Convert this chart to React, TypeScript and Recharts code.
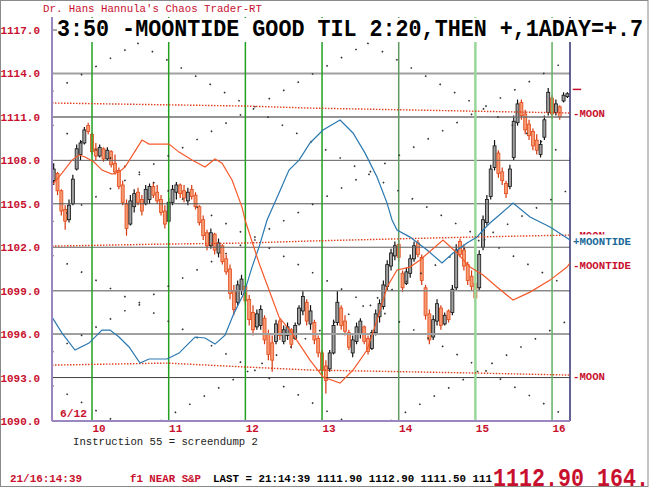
import React from 'react';
import { ComposedChart, Line, Bar, XAxis, YAxis, ReferenceLine } from 'recharts';

const FIRST_BAR_DAY = 9.5;
const BAR_STEP = 0.05;

// [open, high, low, close]
const candles: [number, number, number, number][] = [
  [1106.6, 1107.8, 1106.3, 1107.4], [1107.1, 1107.2, 1105.6, 1105.9], [1105.9, 1106.0, 1104.2, 1104.5], [1104.6, 1104.9, 1103.2, 1103.8],
  [1103.9, 1105.3, 1103.7, 1104.9], [1105.0, 1107.0, 1104.9, 1106.7], [1107.4, 1109.1, 1107.3, 1108.8], [1108.4, 1109.4, 1108.0, 1109.2],
  [1109.2, 1110.3, 1109.1, 1110.1], [1110.4, 1110.6, 1109.8, 1110.0], [1109.8, 1109.9, 1108.4, 1108.6], [1108.8, 1109.2, 1108.0, 1108.3],
  [1108.3, 1109.1, 1108.2, 1108.9], [1108.8, 1108.9, 1107.9, 1108.1], [1108.1, 1108.9, 1108.0, 1108.7], [1108.6, 1108.7, 1107.5, 1107.7],
  [1107.8, 1108.4, 1107.0, 1107.2], [1107.3, 1107.5, 1106.0, 1106.2], [1106.3, 1106.6, 1104.9, 1105.1], [1105.0, 1105.3, 1102.8, 1103.3],
  [1103.6, 1105.6, 1103.5, 1105.2], [1104.8, 1106.0, 1104.4, 1105.7], [1105.8, 1106.1, 1104.9, 1105.1], [1105.3, 1105.6, 1104.2, 1104.5],
  [1105.0, 1106.3, 1104.9, 1106.0], [1105.3, 1106.4, 1105.0, 1106.2], [1106.2, 1106.5, 1105.4, 1105.6], [1105.8, 1106.3, 1105.0, 1105.2],
  [1105.3, 1105.6, 1104.2, 1104.4], [1104.5, 1104.9, 1103.3, 1103.6], [1103.8, 1105.4, 1103.7, 1105.1], [1105.1, 1106.3, 1104.9, 1106.0],
  [1105.8, 1106.5, 1105.3, 1106.3], [1106.3, 1106.4, 1105.4, 1105.7], [1105.9, 1106.3, 1105.1, 1105.4], [1105.2, 1106.1, 1104.9, 1105.8],
  [1106.0, 1106.3, 1105.3, 1105.5], [1105.6, 1105.8, 1104.6, 1104.8], [1104.8, 1104.9, 1103.5, 1103.7], [1103.9, 1104.2, 1102.5, 1102.8],
  [1103.0, 1103.2, 1101.8, 1102.1], [1102.1, 1103.3, 1101.9, 1103.0], [1102.9, 1103.0, 1101.5, 1101.8], [1101.6, 1102.6, 1101.3, 1102.3],
  [1102.1, 1102.2, 1100.8, 1101.0], [1101.2, 1101.5, 1100.1, 1100.3], [1100.5, 1100.8, 1098.4, 1098.8], [1099.0, 1099.4, 1097.3, 1097.7],
  [1098.2, 1099.7, 1098.0, 1099.4], [1099.0, 1100.1, 1098.7, 1099.8], [1099.3, 1099.4, 1098.0, 1098.3], [1098.4, 1098.7, 1096.6, 1097.0],
  [1097.5, 1098.0, 1095.9, 1096.3], [1096.5, 1097.7, 1096.3, 1097.4], [1096.6, 1098.0, 1096.3, 1097.7], [1097.1, 1097.3, 1095.3, 1095.6],
  [1096.0, 1096.3, 1094.2, 1094.6], [1095.4, 1095.9, 1093.4, 1094.2], [1095.5, 1097.0, 1095.3, 1096.7], [1096.9, 1097.1, 1095.6, 1095.9],
  [1095.5, 1096.6, 1095.3, 1096.3], [1095.9, 1096.8, 1095.6, 1096.5], [1096.3, 1096.4, 1095.0, 1095.3], [1095.7, 1096.8, 1095.6, 1096.6],
  [1096.7, 1098.0, 1096.6, 1097.8], [1097.6, 1099.0, 1097.3, 1098.6], [1098.2, 1098.4, 1096.6, 1096.9], [1096.7, 1098.0, 1096.3, 1097.6],
  [1096.8, 1097.0, 1095.3, 1095.6], [1095.7, 1095.9, 1094.4, 1094.7], [1094.7, 1094.9, 1093.2, 1093.5], [1093.8, 1094.2, 1091.9, 1092.8],
  [1093.6, 1094.9, 1093.4, 1094.7], [1094.7, 1097.0, 1094.6, 1096.6], [1096.8, 1099.0, 1096.6, 1098.2], [1097.8, 1098.0, 1096.3, 1096.6],
  [1096.9, 1097.3, 1095.9, 1096.2], [1096.1, 1096.3, 1094.9, 1095.1], [1094.7, 1095.9, 1094.4, 1095.6], [1095.5, 1096.8, 1095.3, 1096.5],
  [1096.0, 1097.1, 1095.7, 1096.9], [1096.5, 1096.6, 1095.3, 1095.5], [1095.7, 1095.9, 1094.6, 1094.8], [1095.0, 1096.3, 1094.9, 1096.1],
  [1096.1, 1097.7, 1095.9, 1097.4], [1097.2, 1098.4, 1096.8, 1098.1], [1097.9, 1099.7, 1097.7, 1099.4], [1099.3, 1101.1, 1099.0, 1100.8],
  [1100.7, 1101.9, 1100.4, 1101.6], [1101.4, 1102.4, 1101.1, 1102.1], [1102.2, 1102.5, 1101.0, 1101.3], [1100.2, 1100.4, 1098.9, 1099.2],
  [1099.5, 1100.6, 1099.4, 1100.3], [1100.2, 1101.5, 1099.9, 1101.2], [1101.2, 1102.4, 1101.0, 1102.1], [1102.3, 1102.5, 1101.3, 1101.5],
  [1101.3, 1101.5, 1099.4, 1099.7], [1099.2, 1099.4, 1097.0, 1097.3], [1097.4, 1097.7, 1095.3, 1095.6], [1095.8, 1097.3, 1095.6, 1097.0],
  [1096.9, 1098.4, 1096.6, 1098.1], [1097.8, 1098.0, 1096.3, 1096.6], [1096.7, 1097.5, 1096.6, 1097.3], [1097.6, 1097.7, 1096.8, 1097.0],
  [1097.5, 1099.4, 1097.3, 1099.1], [1099.2, 1102.2, 1099.0, 1101.8], [1102.4, 1102.6, 1101.3, 1101.5], [1101.8, 1102.2, 1100.4, 1100.7],
  [1100.8, 1101.0, 1099.4, 1099.7], [1100.0, 1100.4, 1099.0, 1099.3], [1099.5, 1099.7, 1098.2, 1098.5], [1099.2, 1101.8, 1099.0, 1101.5],
  [1102.0, 1104.2, 1101.8, 1103.9], [1103.7, 1105.6, 1103.5, 1105.3], [1105.5, 1107.7, 1105.3, 1107.4], [1107.5, 1109.4, 1107.3, 1109.0],
  [1108.5, 1108.7, 1106.8, 1107.1], [1107.2, 1107.5, 1106.3, 1106.6], [1106.4, 1106.6, 1105.4, 1105.7], [1106.2, 1107.7, 1106.0, 1107.4],
  [1108.2, 1111.1, 1108.0, 1110.7], [1110.6, 1112.2, 1110.4, 1111.9], [1112.0, 1112.2, 1110.8, 1111.1], [1111.2, 1111.5, 1109.8, 1110.1],
  [1110.5, 1110.8, 1109.4, 1109.7], [1110.0, 1110.2, 1108.7, 1109.0], [1109.4, 1109.8, 1108.4, 1108.7], [1108.4, 1109.4, 1108.2, 1109.1],
  [1109.6, 1111.1, 1109.4, 1110.8], [1111.3, 1113.0, 1111.1, 1112.7], [1112.3, 1112.5, 1110.9, 1111.2], [1111.3, 1112.2, 1111.1, 1111.9],
  [1111.7, 1111.8, 1110.8, 1111.0], [1112.1, 1112.7, 1112.0, 1112.5], [1112.4, 1112.7, 1112.3, 1112.6],
];

const dayTicks = [10, 11, 12, 13, 14, 15, 16];
const priceTicks = [1090, 1093, 1096, 1099, 1102, 1105, 1108, 1111, 1114, 1117];

// [day, price]
const trendLine: [number, number][] = [
  [9.478, 1106.29], [9.609, 1107.12], [9.739, 1108.02], [9.83, 1108.37], [9.909, 1108.23], [10.026, 1107.88],
  [10.13, 1107.33], [10.261, 1107.05], [10.352, 1107.19], [10.43, 1107.54], [10.652, 1109.4], [10.743, 1109.12],
  [11.004, 1109.12], [11.135, 1108.57], [11.304, 1108.02], [11.474, 1107.54], [11.604, 1108.09], [11.696, 1107.81],
  [11.826, 1106.64], [11.956, 1104.77], [11.996, 1103.88], [12.178, 1100.91], [12.439, 1097.18], [12.609, 1096.07],
  [12.843, 1094.21], [13.013, 1093.04], [13.235, 1092.62], [13.404, 1093.52], [13.587, 1094.9], [13.717, 1096.97],
  [13.848, 1099.25], [13.978, 1100.43], [14.148, 1100.63], [14.278, 1101.12], [14.578, 1102.5], [14.761, 1101.6],
  [14.93, 1100.63], [15.1, 1100.08], [15.282, 1099.25], [15.491, 1098.35], [15.713, 1098.9], [15.974, 1099.73],
  [16.195, 1100.63], [16.234, 1100.91],
];

const tideLine: [number, number][] = [
  [9.478, 1097.18], [9.609, 1096.07], [9.778, 1094.9], [9.961, 1095.38], [10.13, 1096.28], [10.235, 1096.28],
  [10.352, 1095.8], [10.483, 1095.11], [10.626, 1094.0], [10.743, 1094.28], [10.978, 1094.28], [11.135, 1094.69],
  [11.343, 1095.8], [11.474, 1095.73], [11.604, 1095.31], [11.735, 1095.93], [11.852, 1097.45], [11.983, 1098.83],
  [12.087, 1100.63], [12.178, 1102.01], [12.283, 1103.88], [12.439, 1105.74], [12.569, 1107.33], [12.7, 1108.02],
  [12.843, 1109.2], [13.013, 1110.09], [13.235, 1110.78], [13.404, 1109.89], [13.561, 1108.5], [13.717, 1106.85],
  [13.848, 1105.05], [13.913, 1103.88], [13.978, 1103.19], [14.148, 1102.7], [14.37, 1101.81], [14.565, 1100.91],
  [14.709, 1101.6], [14.891, 1102.29], [15.022, 1102.7], [15.1, 1103.19], [15.191, 1103.67], [15.282, 1104.09],
  [15.491, 1105.05], [15.713, 1104.09], [15.974, 1103.4], [16.234, 1102.5],
];

const moonHigh: [number, number][] = [[9.478, 1111.96], [12.0, 1111.75], [12.843, 1111.61], [16.234, 1111.27]];
const moonMid: [number, number][] = [[9.478, 1102.08], [10.978, 1102.22], [12.0, 1102.29], [12.843, 1102.43], [14.93, 1102.7], [16.234, 1102.84]];
const moonLow: [number, number][] = [[9.478, 1093.86], [10.978, 1094.0], [11.996, 1093.73], [12.843, 1093.52], [15.022, 1093.31], [16.234, 1093.17]];

// [day1, price1, day2, price2]
const latticeSegments: [number, number, number, number][] = [
  [10.59, 1116.1, 16.234, 1099.17],
  [9.478, 1110.44, 16.234, 1090.17],
  [9.478, 1101.44, 13.29, 1090.0],
  [9.478, 1092.44, 10.29, 1090.0],
  [13.59, 1116.1, 16.234, 1108.17],
  [9.478, 1112.76, 10.59, 1116.1],
  [9.478, 1103.76, 13.59, 1116.1],
  [9.478, 1094.76, 16.234, 1115.03],
  [10.89, 1090.0, 16.234, 1106.03],
  [13.89, 1090.0, 16.234, 1097.03],
];

const lastPrice = 1112.9;

const RED = '#c8102e';
const MONO = '"Liberation Mono", "DejaVu Sans Mono", monospace';

const candleData = candles.map(([o, h, l, c], i) => ({
  x: FIRST_BAR_DAY + i * BAR_STEP,
  o, h, l, c,
  range: [l, h],
}));

const toPts = (arr: [number, number][]) => arr.map(([x, y]) => ({ x, y }));

const gridStyle: Record<number, [string, number]> = {
  1090: ['#9a86c0', 0],
  1093: ['#404040', 1],
  1096: ['#a0a0a0', 2],
  1099: ['#8a8a8a', 1.5],
  1102: ['#606060', 1],
  1105: ['#505050', 1],
  1108: ['#606060', 1],
  1111: ['#707070', 1.5],
  1114: ['#a0a0a0', 2],
  1117: ['#505050', 1],
};

const dayColor: Record<number, [string, number]> = {
  10: ['#22a022', 1.5],
  11: ['#22a022', 1.5],
  12: ['#22a022', 1.5],
  13: ['#22a022', 1.5],
  14: ['#5f9a5f', 1.5],
  15: ['#98d898', 2.5],
  16: ['#60b060', 1.5],
};

const Candle = (props: any) => {
  const { x, y, width, height, payload } = props;
  if (!payload) return null;
  const { o, h, l, c } = payload;
  const top = Math.min(y, y + height);
  const hgt = Math.abs(height);
  const cx = x + width / 2;
  const py = (v: number) => top + ((h - v) / (h - l || 1)) * hgt;
  const up = c >= o;
  const bTop = py(Math.max(o, c));
  const bBot = py(Math.min(o, c));
  return (
    <g>
      <line x1={cx} x2={cx} y1={top} y2={top + hgt} stroke={up ? '#111' : '#d8380e'} strokeWidth={1.2} />
      <rect
        x={cx - 1.5}
        y={bTop}
        width={3}
        height={Math.max(1, bBot - bTop)}
        fill={up ? '#a0a0a0' : '#f59a72'}
        stroke={up ? '#111' : '#e44a1a'}
        strokeWidth={0.8}
      />
    </g>
  );
};

const YTick = (props: any) => {
  const { y, payload } = props;
  return (
    <text x={40} y={y + 4} textAnchor="end" fill={RED} fontSize={11} fontFamily={MONO} fontWeight="bold">
      {Number(payload.value).toFixed(1)}
    </text>
  );
};

const XTick = (props: any) => {
  const { x, payload } = props;
  return (
    <text x={x + 7} y={432} textAnchor="middle" fill={RED} fontSize={11} fontFamily={MONO} fontWeight="bold">
      {payload.value}
    </text>
  );
};

export default function App() {
  return (
    <div style={{ position: 'absolute', left: 0, top: 0, width: 650, height: 488, background: '#fff' }}>
      <ComposedChart
        width={650}
        height={488}
        data={candleData}
        margin={{ top: 17, right: 80, bottom: 0, left: 0 }}
      >
        <XAxis
          dataKey="x"
          type="number"
          domain={[9.478, 16.234]}
          ticks={dayTicks}
          allowDataOverflow
          height={67}
          tickLine={false}
          axisLine={{ stroke: '#9a86c0', strokeWidth: 2 }}
          tick={<XTick />}
          interval={0}
        />
        <YAxis
          type="number"
          domain={[1090, 1117.9]}
          ticks={priceTicks}
          allowDataOverflow
          width={52}
          tickLine={false}
          axisLine={{ stroke: '#9a86c0', strokeWidth: 2 }}
          tick={<YTick />}
          interval={0}
        />
        {priceTicks.filter((v) => v > 1090).map((v) => (
          <ReferenceLine key={'g' + v} y={v} stroke={gridStyle[v][0]} strokeWidth={gridStyle[v][1]} />
        ))}
        {dayTicks.map((d) => (
          <ReferenceLine key={'d' + d} x={d} stroke={dayColor[d][0]} strokeWidth={dayColor[d][1]} />
        ))}
        <ReferenceLine x={16.234} stroke="#303070" strokeWidth={1.5} />
        {latticeSegments.map(([x1, y1, x2, y2], i) => (
          <Line
            key={'lat' + i}
            data={[{ x: x1, y: y1 }, { x: x2, y: y2 }]}
            dataKey="y"
            stroke="#333"
            strokeWidth={1.6}
            strokeDasharray="1.6 15"
            dot={false}
            isAnimationActive={false}
          />
        ))}
        {[moonHigh, moonMid, moonLow].map((m, i) => (
          <Line
            key={'moon' + i}
            data={toPts(m)}
            dataKey="y"
            stroke="#e0401e"
            strokeWidth={1.4}
            strokeDasharray="1.5 1.5"
            dot={false}
            isAnimationActive={false}
          />
        ))}
        <Line data={toPts(tideLine)} dataKey="y" stroke="#2a78b0" strokeWidth={1.2} dot={false} isAnimationActive={false} />
        <Line data={toPts(trendLine)} dataKey="y" stroke="#f4592a" strokeWidth={1.2} dot={false} isAnimationActive={false} />
        <Bar dataKey="range" barSize={3} shape={(p: any) => <Candle {...p} />} isAnimationActive={false} />
        <ReferenceLine
          segment={[{ x: 16.27, y: lastPrice }, { x: 16.38, y: lastPrice }]}
          stroke={RED}
          strokeWidth={1.5}
          ifOverflow="visible"
        />
      </ComposedChart>
      <svg
        width={650}
        height={488}
        style={{ position: 'absolute', left: 0, top: 0, pointerEvents: 'none' }}
      >
        <rect x={0.5} y={0.5} width={647.5} height={486} fill="none" stroke="#8a8a8a" strokeWidth={1} />
        <text x={43} y={12} fill={RED} fontSize={11} fontFamily={MONO} textLength={219} lengthAdjust="spacingAndGlyphs">
          Dr. Hans Hannula's Chaos Trader-RT
        </text>
        <rect x={57} y={18} width={589} height={24} fill="#fff" />
        <text x={57} y={36} fill="#000" fontSize={24} fontFamily={MONO} fontWeight="bold" textLength={586} lengthAdjust="spacingAndGlyphs">
          3:50 -MOONTIDE GOOD TIL 2:20,THEN +,1ADAY=+.7
        </text>
        <text x={573} y={117} fill={RED} fontSize={11} fontFamily={MONO} fontWeight="bold" textLength={32} lengthAdjust="spacingAndGlyphs">-MOON</text>
        <text x={573} y={239} fill={RED} fontSize={11} fontFamily={MONO} fontWeight="bold" textLength={32} lengthAdjust="spacingAndGlyphs">-MOON</text>
        <rect x={572} y={234.5} width={70} height={12} fill="#fff" />
        <text x={573} y={244.5} fill="#1a6a9a" fontSize={11} fontFamily={MONO} fontWeight="bold" textLength={58} lengthAdjust="spacingAndGlyphs">+MOONTIDE</text>
        <text x={573} y={269} fill={RED} fontSize={11} fontFamily={MONO} fontWeight="bold" textLength={58} lengthAdjust="spacingAndGlyphs">-MOONTIDE</text>
        <text x={573} y={380} fill={RED} fontSize={11} fontFamily={MONO} fontWeight="bold" textLength={32} lengthAdjust="spacingAndGlyphs">-MOON</text>
        <text x={60} y={417} fill={RED} fontSize={11} fontFamily={MONO} fontWeight="bold" textLength={27} lengthAdjust="spacingAndGlyphs">6/12</text>
        <text x={73} y={445} fill="#222" fontSize={10} fontFamily={MONO} textLength={185} lengthAdjust="spacingAndGlyphs">Instruction 55 = screendump 2</text>
        <text x={10} y={482} fill={RED} fontSize={11} fontFamily={MONO} fontWeight="bold" textLength={72} lengthAdjust="spacingAndGlyphs">21/16:14:39</text>
        <text x={130} y={482} fill={RED} fontSize={11} fontFamily={MONO} fontWeight="bold" textLength={71} lengthAdjust="spacingAndGlyphs">f1 NEAR S&amp;P</text>
        <text x={213} y={482} fill="#000" fontSize={11} fontFamily={MONO} fontWeight="bold" textLength={279} lengthAdjust="spacingAndGlyphs">LAST = 21:14:39 1111.90 1112.90 1111.50 111</text>
        <text x={493} y={486} fill={RED} fontSize={25} fontFamily={MONO} fontWeight="bold" textLength={169} lengthAdjust="spacingAndGlyphs">1112.90 164.5</text>
      </svg>
    </div>
  );
}
